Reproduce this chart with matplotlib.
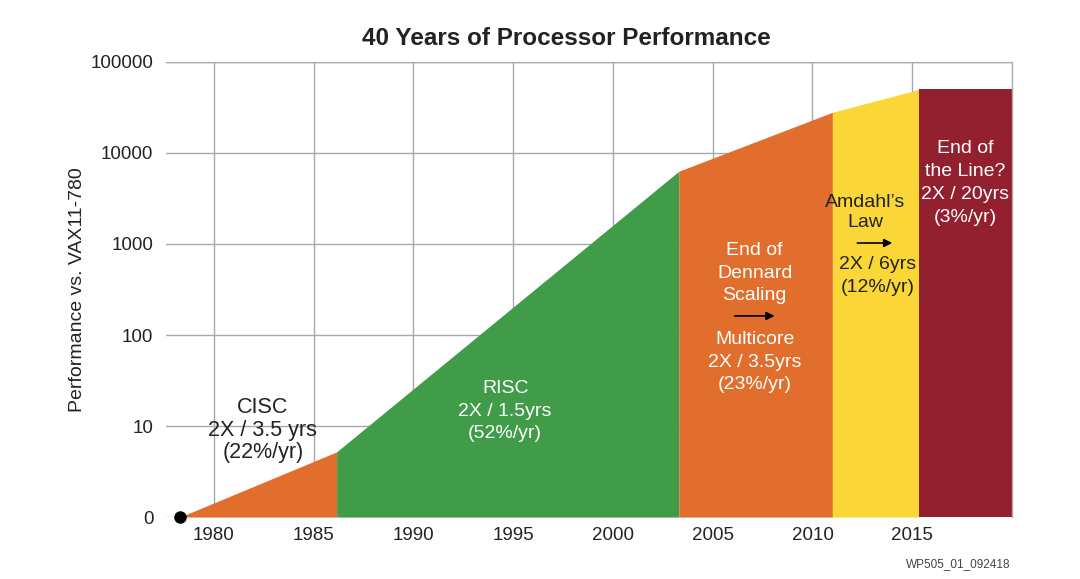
"""Recreate the '40 Years of Processor Performance' era chart."""

import matplotlib

matplotlib.use("Agg")
import matplotlib.pyplot as plt
from matplotlib.ticker import FixedLocator, FixedFormatter

plt.rcParams["font.family"] = ["Liberation Sans", "DejaVu Sans"]

# Era boundaries (year) and performance relative to VAX11-780 at each boundary
ERA_YEARS = [1978.3, 1986.15, 2003.3, 2011.0, 2015.35, 2020.0]
ERA_PERF = [1, 5.2, 6300, 28000, 50000, 50000]
ERA_COLORS = ["#E26E2D", "#409C48", "#E26E2D", "#FAD637", "#92202F"]

X_TICKS = [1980, 1985, 1990, 1995, 2000, 2005, 2010, 2015]
Y_TICKS = [1, 10, 100, 1000, 10000, 100000]
Y_TICK_LABELS = ["0", "10", "100", "1000", "10000", "100000"]

GRID_COLOR = "#A8A8A8"
TEXT_COLOR = "#222222"


def draw_eras(ax):
    """Fill each era as a wedge under the growth line."""
    for i, color in enumerate(ERA_COLORS):
        xs = ERA_YEARS[i:i + 2]
        ys = ERA_PERF[i:i + 2]
        ax.fill_between(xs, [1, 1], ys, color=color, linewidth=0, zorder=2)
    ax.plot(ERA_YEARS[0], ERA_PERF[0], "o", color="black", markersize=8,
            zorder=4, clip_on=False)


def label(ax, x, y, text, color, size=14, spacing=1.45):
    ax.text(x, y, text, color=color, fontsize=size, ha="center", va="center",
            linespacing=spacing, zorder=5)


def arrow(ax, x0, x1, y):
    ax.annotate("", xy=(x1, y), xytext=(x0, y),
                arrowprops=dict(arrowstyle="-|>", color="black", lw=1.2,
                                mutation_scale=12, shrinkA=0, shrinkB=0),
                zorder=5)


def main():
    fig = plt.figure(figsize=(10.8, 5.79), dpi=100)
    ax = fig.add_axes([0.1537, 0.107, 0.7833, 0.786])

    ax.set_yscale("log")
    ax.set_xlim(1977.6, 2020.0)
    ax.set_ylim(1, 100000)

    ax.xaxis.set_major_locator(FixedLocator(X_TICKS))
    ax.yaxis.set_major_locator(FixedLocator(Y_TICKS))
    ax.yaxis.set_major_formatter(FixedFormatter(Y_TICK_LABELS))
    ax.yaxis.set_minor_locator(FixedLocator([]))
    ax.tick_params(axis="both", length=0, labelsize=13.5, colors=TEXT_COLOR)
    ax.tick_params(axis="y", pad=9)
    ax.tick_params(axis="x", pad=7)

    ax.grid(True, color=GRID_COLOR, linewidth=1.0, zorder=0)
    ax.set_axisbelow(True)
    for side in ["left", "top", "bottom"]:
        ax.spines[side].set_visible(False)
    ax.spines["right"].set_color(GRID_COLOR)
    ax.spines["right"].set_linewidth(1.0)
    ax.axhline(100000, color=GRID_COLOR, linewidth=1.0, zorder=1)

    draw_eras(ax)

    label(ax, 1982.45, 9.0, "CISC\n2X / 3.5 yrs\n(22%/yr)", TEXT_COLOR,
          size=15.5, spacing=1.1)
    label(ax, 1994.6, 14.6, "RISC\n2X / 1.5yrs\n(52%/yr)", "white")
    label(ax, 2007.1, 479, "End of\nDennard\nScaling", "white")
    arrow(ax, 2006.1, 2008.1, 162)
    label(ax, 2007.1, 50.5, "Multicore\n2X / 3.5yrs\n(23%/yr)", "white")
    label(ax, 2012.65, 2218, "Amdahl\u2019s\nLaw", TEXT_COLOR, spacing=1.2)
    arrow(ax, 2012.25, 2014.0, 1025)
    label(ax, 2013.25, 445, "2X / 6yrs\n(12%/yr)", TEXT_COLOR)
    label(ax, 2017.65, 4690, "End of\nthe Line?\n2X / 20yrs\n(3%/yr)", "white")

    ax.set_ylabel("Performance vs. VAX11-780", fontsize=14, color=TEXT_COLOR,
                  labelpad=3)
    fig.text(0.5245, 0.934, "40 Years of Processor Performance",
             fontsize=17.5, fontweight="bold", color=TEXT_COLOR,
             ha="center", va="center")
    fig.text(0.887, 0.026, "WP505_01_092418", fontsize=8.5,
             color="#444444", ha="center", va="center")

    fig.savefig("out.png", dpi=100)
    plt.close(fig)


if __name__ == "__main__":
    main()
